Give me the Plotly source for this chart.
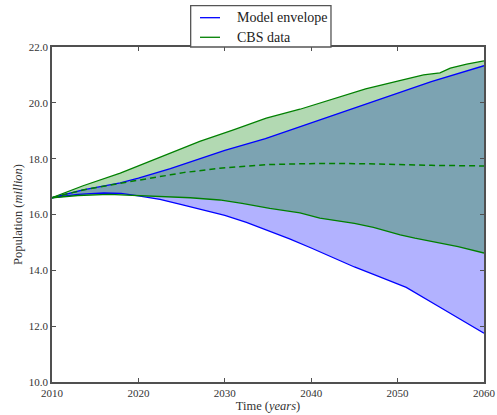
import plotly.graph_objects as go

# Model envelope (upper / lower bounds)
yr_model_up = [2010, 2013.6, 2017.9, 2020, 2023.7, 2025, 2030, 2034.7, 2040, 2046.2, 2050, 2053.9, 2060]
model_up = [16.6, 16.88, 17.13, 17.3, 17.64, 17.78, 18.3, 18.72, 19.28, 19.92, 20.33, 20.76, 21.33]

yr_model_lo = [2010, 2013, 2016, 2018, 2020, 2022.5, 2025, 2027.5, 2030, 2032.5, 2035, 2037.5,
               2040, 2042.5, 2045, 2047.5, 2051, 2055, 2060]
model_lo = [16.6, 16.72, 16.77, 16.76, 16.67, 16.54, 16.35, 16.16, 15.97, 15.72, 15.43, 15.13,
            14.8, 14.45, 14.12, 13.82, 13.39, 12.66, 11.75]

# CBS data (upper / lower bounds and median)
yr_cbs_up = [2010, 2013.6, 2017.9, 2020, 2024.4, 2027.1, 2031, 2034.8, 2038.7, 2042.5, 2046.3,
             2050, 2051.8, 2053, 2054.9, 2056.1, 2058, 2060]
cbs_up = [16.6, 17.03, 17.48, 17.74, 18.31, 18.62, 19.03, 19.45, 19.77, 20.14, 20.5,
          20.78, 20.9, 21.0, 21.07, 21.24, 21.39, 21.5]

yr_cbs_lo = [2010, 2013, 2016.6, 2020, 2023.7, 2026, 2029.4, 2032, 2035.2, 2038.7, 2041, 2043.3,
             2045, 2047.2, 2050.3, 2052, 2054.2, 2057, 2060]
cbs_lo = [16.6, 16.68, 16.72, 16.68, 16.64, 16.6, 16.52, 16.4, 16.22, 16.06, 15.87, 15.76,
          15.68, 15.54, 15.27, 15.15, 15.03, 14.85, 14.62]

yr_cbs_mid = [2010, 2013.6, 2017.9, 2020, 2023.7, 2025.2, 2029.4, 2035.2, 2041, 2046.2, 2050, 2053.9, 2060]
cbs_mid = [16.6, 16.88, 17.12, 17.22, 17.42, 17.5, 17.66, 17.79, 17.83, 17.82, 17.78, 17.76, 17.74]

x_ticks = [2010, 2020, 2030, 2040, 2050, 2060]
y_ticks = [10, 12, 14, 16, 18, 20, 22]

legend_labels = ["Model envelope", "CBS data"]

BLUE = "#0000ff"
GREEN = "#008000"
FONT = "Liberation Serif"

fig = go.Figure()

# fills
fig.add_trace(go.Scatter(x=yr_model_lo, y=model_lo, mode="lines", line=dict(width=0),
                         showlegend=False, hoverinfo="skip"))
fig.add_trace(go.Scatter(x=yr_model_up, y=model_up, mode="lines", line=dict(width=0),
                         fill="tonexty", fillcolor="rgba(0,0,255,0.3)",
                         showlegend=False, hoverinfo="skip"))
fig.add_trace(go.Scatter(x=yr_cbs_lo, y=cbs_lo, mode="lines", line=dict(width=0),
                         showlegend=False, hoverinfo="skip"))
fig.add_trace(go.Scatter(x=yr_cbs_up, y=cbs_up, mode="lines", line=dict(width=0),
                         fill="tonexty", fillcolor="rgba(0,128,0,0.3)",
                         showlegend=False, hoverinfo="skip"))

# lines
fig.add_trace(go.Scatter(x=yr_model_up, y=model_up, mode="lines", name=legend_labels[0],
                         line=dict(color=BLUE, width=1.3), showlegend=False))
fig.add_trace(go.Scatter(x=yr_model_lo, y=model_lo, mode="lines", showlegend=False,
                         line=dict(color=BLUE, width=1.3)))
fig.add_trace(go.Scatter(x=yr_cbs_up, y=cbs_up, mode="lines", name=legend_labels[1],
                         line=dict(color=GREEN, width=1.3), showlegend=False))
fig.add_trace(go.Scatter(x=yr_cbs_lo, y=cbs_lo, mode="lines", showlegend=False,
                         line=dict(color=GREEN, width=1.3)))
fig.add_trace(go.Scatter(x=yr_cbs_mid, y=cbs_mid, mode="lines", showlegend=False,
                         line=dict(color=GREEN, width=1.5, dash="6px,4px")))

axis_common = dict(showline=True, linecolor="#505050", linewidth=1.6, mirror="allticks",
                   ticks="inside", ticklen=4, tickcolor="#505050", showgrid=False,
                   zeroline=False, tickfont=dict(family=FONT, size=11, color="#333333"))

# legend box drawn in paper coordinates (matplotlib-style legend above the axes)
shapes = [
    dict(type="rect", xref="paper", yref="paper", x0=0.321, x1=0.6458, y0=1.0, y1=1.1233,
         fillcolor="white", line=dict(color="#555555", width=1.3), layer="above"),
    dict(type="line", xref="paper", yref="paper", x0=0.3426, x1=0.3889, y0=1.0875, y1=1.0875,
         line=dict(color=BLUE, width=1.3), layer="above"),
    dict(type="line", xref="paper", yref="paper", x0=0.3426, x1=0.3889, y0=1.029, y1=1.029,
         line=dict(color=GREEN, width=1.3), layer="above"),
]
annotations = [
    dict(text=legend_labels[0], xref="paper", yref="paper", x=0.4236, y=1.0875,
         xanchor="left", yanchor="middle", showarrow=False,
         font=dict(family=FONT, size=14, color="#222222")),
    dict(text=legend_labels[1], xref="paper", yref="paper", x=0.4236, y=1.029,
         xanchor="left", yanchor="middle", showarrow=False,
         font=dict(family=FONT, size=14, color="#222222")),
]

fig.update_layout(
    width=497, height=415,
    margin=dict(l=52, r=13, t=47, b=33),
    paper_bgcolor="white", plot_bgcolor="white",
    font=dict(family=FONT, size=11, color="#333333"),
    xaxis=dict(range=[2010, 2060], tickvals=x_ticks, ticktext=[str(v) for v in x_ticks],
               title=dict(text="Time (<i>years</i>)", font=dict(family=FONT, size=12.5), standoff=1),
               automargin=False, **axis_common),
    yaxis=dict(range=[10, 22], tickvals=y_ticks, ticktext=[f"{v:.1f}" for v in y_ticks],
               title=dict(text="Population (<i>million</i>)", font=dict(family=FONT, size=12.5), standoff=3),
               automargin=False, **axis_common),
    shapes=shapes,
    annotations=annotations,
    showlegend=False,
)

fig.write_html("out.html", config={"displayModeBar": False},
               post_script="document.body.style.margin='0';document.body.style.overflow='hidden';")
